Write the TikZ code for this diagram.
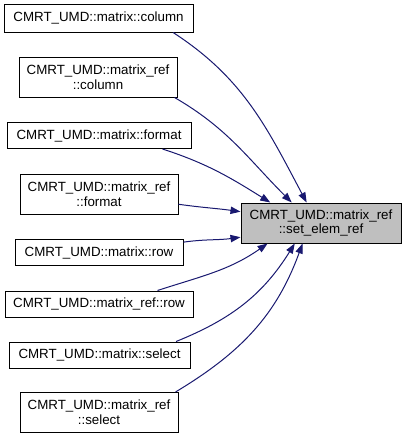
\documentclass[tikz,border=0pt]{standalone}
\usepackage{fontspec}
\setmainfont{Liberation Sans}
\usetikzlibrary{arrows.meta}
\definecolor{callblue}{HTML}{191970}
\definecolor{focusgray}{HTML}{BFBFBF}

\begin{document}
\begin{tikzpicture}[x=0.75pt, y=-0.75pt, font=\fontsize{10}{11}\selectfont,
fn/.style={draw=black, line width=0.75pt, fill=white, inner sep=0pt, align=center, minimum height=26*0.75pt},
fntwo/.style={fn, minimum height=40*0.75pt},
wd/.style={minimum width=#1*0.75pt},
call/.style={draw=callblue, line width=0.75pt, -{Triangle[length=7.5pt, width=5.5pt]}}]
    \useasboundingbox (0,0) rectangle (405,439);
    % callers
    \node[fn, wd=189, minimum height=28*0.75pt] (col) at (98.5,18) {CMRT\_UMD::matrix::column};
    \node[fntwo, wd=158] (refcol) at (98,77) {CMRT\_UMD::matrix\_ref\\::column};
    \node[fn, wd=184] (fmt) at (99,135.5) {CMRT\_UMD::matrix::format};
    \node[fntwo, wd=158] (reffmt) at (99,194.5) {CMRT\_UMD::matrix\_ref\\::format};
    \node[fn, wd=168] (row) at (99,252.5) {CMRT\_UMD::matrix::row};
    \node[fn, wd=188] (refrow) at (99,304) {CMRT\_UMD::matrix\_ref::row};
    \node[fn, wd=181] (sel) at (99.5,355) {CMRT\_UMD::matrix::select};
    \node[fntwo, wd=158] (refsel) at (99,412.5) {CMRT\_UMD::matrix\_ref\\::select};
    % callee
    \node[fntwo, wd=160, fill=focusgray] (elem) at (321,223) {CMRT\_UMD::matrix\_ref\\::set\_elem\_ref};
    \draw[call] (col.-11) to[out=-33, in=118] (elem.125);
    \draw[call] (refcol.-15.5) to[out=-30, in=135] (elem.145);
    \draw[call] (fmt.-12.6) to[out=-18, in=148] (elem.158);
    \draw[call] (reffmt.-7.6) to[out=-8, in=172] (elem.172);
    \draw[call] (row.7.8) to[out=8, in=188] (elem.190);
    \draw[call] (refrow.13.8) to[out=18, in=-145] (elem.201);
    \draw[call] (sel.10.8) to[out=22, in=-122] (elem.218);
    \draw[call] (refsel.15.4) to[out=31, in=-110] (elem.228);
\end{tikzpicture}
\end{document}
